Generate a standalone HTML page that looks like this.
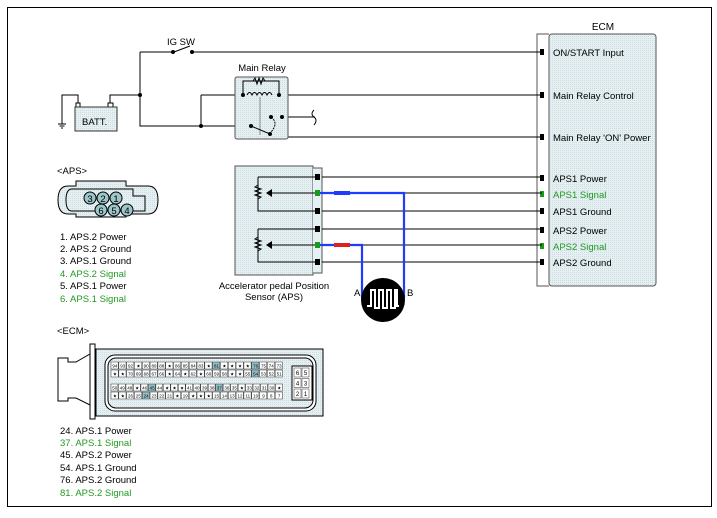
<!DOCTYPE html>
<html><head><meta charset="utf-8"><style>
body{margin:0;background:#fff;}
svg{display:block;font-family:"Liberation Sans",sans-serif;}
</style></head><body>
<svg id="s" width="717" height="518" viewBox="0 0 717 518" xmlns="http://www.w3.org/2000/svg">
<defs>
<pattern id="dot" width="2" height="2" patternUnits="userSpaceOnUse"><rect width="2" height="2" fill="#e4f0f2"/><rect width="1" height="1" fill="#cfdde2"/></pattern>
</defs>
<rect x="7.5" y="7.5" width="704" height="499" fill="none" stroke="#000" stroke-width="1"/>

<!-- ECM box -->
<text x="603" y="30" font-size="10" text-anchor="middle">ECM</text>
<path d="M549 34 H537 V286 H549" fill="none" stroke="#555"/>
<rect x="549" y="34" width="107" height="252" rx="3" fill="url(#dot)" stroke="#555"/>
<g font-size="9.5">
<text x="553" y="56">ON/START Input</text>
<text x="553" y="99">Main Relay Control</text>
<text x="553" y="141">Main Relay 'ON' Power</text>
<text x="553" y="182">APS1 Power</text>
<text x="553" y="198" fill="#229922">APS1 Signal</text>
<text x="553" y="215">APS1 Ground</text>
<text x="553" y="234">APS2 Power</text>
<text x="553" y="250" fill="#229922">APS2 Signal</text>
<text x="553" y="266">APS2 Ground</text>
</g>
<g fill="#000">
<rect x="540" y="49" width="4" height="6"/><rect x="540" y="92" width="4" height="6"/><rect x="540" y="134" width="4" height="6"/>
<rect x="540" y="175" width="4" height="6"/><rect x="540" y="191" width="4" height="6" fill="#1a9a1a"/><rect x="540" y="208" width="4" height="6"/>
<rect x="540" y="227" width="4" height="6"/><rect x="540" y="243" width="4" height="6" fill="#1a9a1a"/><rect x="540" y="259" width="4" height="6"/>
</g>

<!-- top wiring -->
<g stroke="#000" fill="none" stroke-width="1">
<path d="M140 52 V95 M140 95 H110 V103"/>
<path d="M140 52 H173 M192 52 H542"/>
<path d="M174 52 L190 46"/>
<path d="M140 95 V126 H250"/>
<path d="M201 95 V126"/>
<path d="M201 95 H243 M279 95 H542"/>
<path d="M282 117 H315"/>
<path d="M287 117 V137 H542"/>
<path d="M250 126 L271 134"/>
<path d="M78 103 V95 H62 V124"/>
<path d="M58 124 H66 M59.5 126 H64.5 M61 128 H63"/>
</g>
<path d="M314 110 q-4 4 0 7 q4 3 0 8" stroke="#000" fill="none"/>
<g fill="#000"><circle cx="140" cy="95" r="2"/><circle cx="201" cy="126" r="2"/><circle cx="173" cy="52" r="2"/><circle cx="192" cy="52" r="2"/></g>
<text x="181" y="45" font-size="9.5" text-anchor="middle">IG SW</text>
<!-- battery -->
<rect x="76" y="103" width="4" height="4" fill="#fff" stroke="#000"/>
<rect x="108" y="103" width="5" height="4" fill="#fff" stroke="#000"/>
<rect x="75" y="107" width="42" height="24" fill="url(#dot)" stroke="#333"/>
<text x="82" y="125" font-size="9.5">BATT.</text>
<!-- relay -->
<text x="262" y="71" font-size="9.5" text-anchor="middle">Main Relay</text>
<rect x="235" y="77" width="53" height="62" rx="2" fill="url(#dot)" stroke="#555"/>
<g stroke="#000" fill="none">
<path d="M243 95 V81 H279 V95"/>
<path d="M253 81 l2 -3 l2 6 l2 -6 l2 6 l2 -6 l2 3"/>
<path d="M247 95 q2.5 -5 5 0 q2.5 -5 5 0 q2.5 -5 5 0 q2.5 -5 5 0 q2.5 -5 5 0"/>
<path d="M260 97 V135" stroke="#888"/>
<path d="M251 126 L270 134"/>
<path d="M271 117 q8 6 0 15" stroke-dasharray="2 1"/>
</g>
<g fill="#000"><circle cx="243" cy="95" r="2"/><circle cx="279" cy="95" r="2"/><circle cx="251" cy="126" r="2"/><circle cx="270" cy="134" r="2"/><circle cx="271" cy="117" r="2"/><circle cx="282" cy="117" r="2"/></g>

<!-- APS sensor -->
<rect x="235" y="166" width="78" height="109" fill="url(#dot)" stroke="#555"/>
<path d="M313 168 H322 V273 H313" fill="#e4f0f2" stroke="#555"/>
<g stroke="#000" fill="none">
<path d="M322 177 H542 M322 211 H542 M322 229 H542 M322 262 H542"/>
<path d="M258 177 H316 M258 177 V211 H316 M258 229 H316 M258 229 V262 H316"/>
<path d="M258 185 l-3 2 l6 2 l-6 2 l6 2 l-6 2 l6 2 l-3 2"/>
<path d="M258 237 l-3 2 l6 2 l-6 2 l6 2 l-6 2 l6 2 l-3 2"/>
<path d="M272 193 H316 M272 245 H316"/>
<path d="M404 211 H542 M404 193 H542 M362 245 H542"/>
</g>
<path d="M266 193 l6 -4 v8 z M266 245 l6 -4 v8 z" fill="#000"/>
<g><rect x="315" y="174" width="5" height="6" fill="#000"/><rect x="315" y="190" width="5" height="6" fill="#1a9a1a"/><rect x="315" y="208" width="5" height="6"/><rect x="315" y="226" width="5" height="6"/><rect x="315" y="242" width="5" height="6" fill="#1a9a1a"/><rect x="315" y="259" width="5" height="6"/></g>
<path d="M320 193 H404 V298 M320 245 H362 V298" stroke="#1f3bff" stroke-width="2.2" fill="none"/>
<rect x="334" y="191" width="16" height="4" fill="#1f3bff"/>
<rect x="334" y="243" width="16" height="4" fill="#e02020"/>
<circle cx="383" cy="300" r="22" fill="#000"/>
<path d="M367 306 H371 V290 H375 V308 H379 V290 H383 V308 H387 V290 H391 V308 H395 V290 H397 V306 H399" stroke="#fff" stroke-width="2" fill="none"/>
<text x="354" y="296" font-size="9.5">A</text>
<text x="407" y="296" font-size="9.5">B</text>
<text x="274" y="289" font-size="9.5" text-anchor="middle">Accelerator pedal Position</text>
<text x="274" y="300" font-size="9.5" text-anchor="middle">Sensor (APS)</text>

<!-- APS connector -->
<text x="57" y="174" font-size="9.5">&lt;APS&gt;</text>
<path d="M76 181 H126 V186 H148 q10 0 10 14 q0 14 -10 14 H126 V217 H76 V214 H68 q-10 0 -10 -14 q0 -14 10 -14 H76 Z" fill="url(#dot)" stroke="#000"/>
<path d="M72 189 H133 V196 H145 V211 H72 q-6 0 -6 -11 q0 -11 6 -11 Z" fill="none" stroke="#000"/>
<g stroke="#000" fill="#9cc6ca" font-size="9">
<circle cx="90" cy="198" r="6"/><circle cx="103" cy="198" r="6"/><circle cx="116" cy="198" r="6"/>
<circle cx="101" cy="210" r="6"/><circle cx="114" cy="210" r="6"/><circle cx="127" cy="210" r="6"/>
</g>
<g font-size="9.5" text-anchor="middle"><text x="90" y="202">3</text><text x="103" y="202">2</text><text x="116" y="202">1</text><text x="101" y="214">6</text><text x="114" y="214">5</text><text x="127" y="214">4</text></g>
<g font-size="9.5">
<text x="60" y="240">1. APS.2 Power</text>
<text x="60" y="252">2. APS.2 Ground</text>
<text x="60" y="264">3. APS.1 Ground</text>
<text x="60" y="277" fill="#229922">4. APS.2 Signal</text>
<text x="60" y="289">5. APS.1 Power</text>
<text x="60" y="302" fill="#229922">6. APS.1 Signal</text>
</g>

<!-- ECM connector -->
<text x="57" y="334" font-size="9.5">&lt;ECM&gt;</text>
<g stroke="#000" fill="#fff">
<path d="M58 358 H68 V362 H76 L90 354 H95 V405 H90 L76 398 H68 V401 H58 Z"/>
<rect x="90" y="344" width="5" height="75"/>
<rect x="96" y="349" width="227" height="67" fill="url(#dot)"/>
<rect x="105" y="355" width="211" height="56" rx="10" fill="#fff"/>
<rect x="108" y="358" width="205" height="50" rx="8" fill="url(#dot)"/>
</g>
<rect x="292" y="366" width="20" height="34" fill="#fff" stroke="#000"/>
<g id="grid" font-size="4.5" text-anchor="middle"></g>

<g font-size="9.5">
<text x="60" y="434">24. APS.1 Power</text>
<text x="60" y="446" fill="#229922">37. APS.1 Signal</text>
<text x="60" y="458">45. APS.2 Power</text>
<text x="60" y="471">54. APS.1 Ground</text>
<text x="60" y="483">76. APS.2 Ground</text>
<text x="60" y="496" fill="#229922">81. APS.2 Signal</text>
</g>
</svg>
<script>
var g=document.getElementById('grid');var ns="http://www.w3.org/2000/svg";
var rows=[
["94","93","92","★","90","89","88","★","86","85","84","83","★","81","★","★","★","★","76","75","74","73"],
["★","★","70","69","68","67","66","★","64","★","62","★","60","59","58","★","★","55","54","53","52","51"],
["50","49","48","★","46","45","44","★","★","★","41","40","39","38","37","36","35","★","33","32","31","30","★"],
["★","★","26","25","24","23","22","21","★","19","★","★","★","15","14","13","12","11","10","9","8","7"]];
var hl={"81":1,"76":1,"54":1,"45":1,"37":1,"24":1};
var ys=[362,370,384,392];
rows.forEach(function(r,i){var w=172/r.length;r.forEach(function(t,j){
var x=111+j*w;var re=document.createElementNS(ns,'rect');re.setAttribute('x',x);re.setAttribute('y',ys[i]);re.setAttribute('width',w-0.6);re.setAttribute('height',7);
re.setAttribute('fill',hl[t]?'#8fbfc6':'#fff');re.setAttribute('stroke','#333');re.setAttribute('stroke-width','0.5');g.appendChild(re);
var tx=document.createElementNS(ns,'text');tx.setAttribute('x',x+w/2);tx.setAttribute('y',ys[i]+5.5);tx.textContent=t;g.appendChild(tx);});});
[["6","5"],["4","3"],["2","1"]].forEach(function(r,i){r.forEach(function(t,j){var re=document.createElementNS(ns,'rect');re.setAttribute('x',294+j*8);re.setAttribute('y',368+i*10.5);re.setAttribute('width',7);re.setAttribute('height',9);re.setAttribute('fill','#fff');re.setAttribute('stroke','#333');re.setAttribute('stroke-width','0.5');g.appendChild(re);var tx=document.createElementNS(ns,'text');tx.setAttribute('x',297.5+j*8);tx.setAttribute('y',375+i*10.5);tx.setAttribute('font-size','6');tx.textContent=t;g.appendChild(tx);});});
</script>
</body></html>
